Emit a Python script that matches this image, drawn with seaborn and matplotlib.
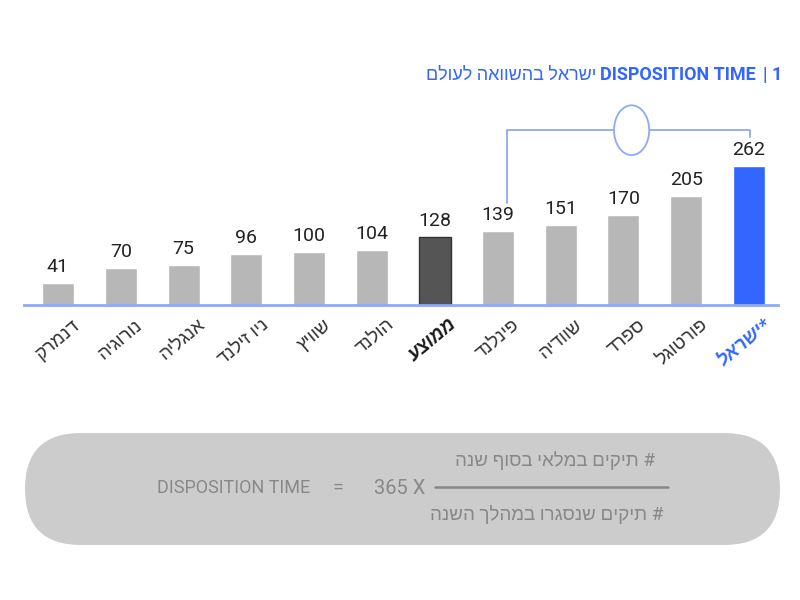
import matplotlib
matplotlib.use("Agg")
import matplotlib.pyplot as plt
import matplotlib.patches as mpatches
import pandas as pd
import seaborn as sns

# data (logical Hebrew order, reversed for drawing since matplotlib has no bidi)
countries = ["דנמרק", "נורוגיה", "אנגליה", "ניו זילנד", "שוויץ", "הולנד",
             "ממוצע", "פינלנד", "שוודיה", "ספרד", "פורטוגל", "*ישראל"]
values = [41, 70, 75, 96, 100, 104, 128, 139, 151, 170, 205, 262]
groups = ["other"] * 6 + ["avg"] + ["other"] * 4 + ["israel"]

title_num = "1"
title_en = "DISPOSITION TIME"
title_he = "ישראל בהשוואה לעולם"
formula_name = "DISPOSITION TIME"
formula_factor = "365 X"
formula_top = "# תיקים במלאי בסוף שנה"
formula_bottom = "# תיקים שנסגרו במהלך השנה"

GRAY = "#b7b7b7"
DARK = "#555555"
BLUE = "#3366ff"
LINE_BLUE = "#8fa8f8"
TEXT_GRAY = "#888888"
FONT = ["Roboto", "Liberation Sans", "DejaVu Sans"]


def visual(s):
    return s[::-1]


sns.set_theme(style="white")
plt.rcParams["font.family"] = FONT

df = pd.DataFrame({"country": countries, "value": values, "group": groups})

fig = plt.figure(figsize=(8, 6), dpi=100)

# overlay in pixel coords for title and formula box
bg = fig.add_axes([0, 0, 1, 1], zorder=0)
bg.set_xlim(0, 800)
bg.set_ylim(600, 0)
bg.axis("off")

ax = fig.add_axes([24 / 800, 1 - 305 / 600, 754 / 800, 205 / 600], zorder=1)
ax.set_facecolor("none")
sns.barplot(data=df, x="country", y="value", hue="group", order=countries,
            palette={"other": GRAY, "avg": DARK, "israel": BLUE},
            width=0.51, dodge=False, legend=False, saturation=1, ax=ax)
for p in ax.patches:
    if p.get_facecolor()[:3] == matplotlib.colors.to_rgb(DARK):
        p.set_edgecolor("#333333")
        p.set_linewidth(1)

ax.set_xlim(-0.54, 11.46)
ax.set_ylim(0, 387)
for side in ["top", "left", "right"]:
    ax.spines[side].set_visible(False)
ax.spines["bottom"].set_color(LINE_BLUE)
ax.spines["bottom"].set_linewidth(2)
ax.set_xlabel("")
ax.set_ylabel("")
ax.set_yticks([])
ax.set_xticks([])

for i, (c, v, g) in enumerate(zip(countries, values, groups)):
    ax.annotate(str(v), (i, v), xytext=(0, 5), textcoords="offset points",
                ha="center", va="bottom", fontsize=14, color="#222222")
    kw = dict(color="#333333")
    if g == "avg":
        kw = dict(color="#1a1a1a", fontweight="bold", fontstyle="italic")
    elif g == "israel":
        kw = dict(color=BLUE, fontweight="bold", fontstyle="italic")
    ax.text(i + 0.22, -20, visual(c), rotation=40, ha="right", va="top",
            rotation_mode="anchor", fontsize=13.5, clip_on=False, **kw)

# bracket from Finland to Israel with the circle
bx = [7.15, 7.15, 11.02, 11.02]
by = [192, 330, 330, 317]
ax.plot(bx, by, color=LINE_BLUE, lw=1.3, solid_joinstyle="round", clip_on=False)
ax.add_patch(mpatches.Ellipse((9.13, 330), 0.56, 94, facecolor="white",
                              edgecolor=LINE_BLUE, lw=1.3, clip_on=False, zorder=3))

# title, built right to left
t1 = bg.text(782, 75, title_num, ha="right", va="center", fontsize=13,
             fontweight="bold", color=BLUE)
t2 = bg.annotate("|", xy=(0, 0.5), xycoords=t1, xytext=(-3, 0),
                 textcoords="offset points", ha="right", va="center",
                 fontsize=13, fontweight="bold", color=BLUE)
t3 = bg.annotate(title_en, xy=(0, 0.5), xycoords=t2, xytext=(-5, 0),
                 textcoords="offset points", ha="right", va="center",
                 fontsize=13, fontweight="bold", color=BLUE)
bg.annotate(visual(title_he), xy=(0, 0.5), xycoords=t3, xytext=(-3, 0),
            textcoords="offset points", ha="right", va="center",
            fontsize=13, color=BLUE)

# formula box
bg.add_patch(mpatches.FancyBboxPatch((25, 433), 755, 112,
                                     boxstyle="round,pad=0,rounding_size=56",
                                     facecolor="#cccccc", edgecolor="none"))
bg.text(234, 488, formula_name, ha="center", va="center", fontsize=13,
        color=TEXT_GRAY)
bg.text(338, 488, "=", ha="center", va="center", fontsize=14,
        color=TEXT_GRAY)
bg.text(400, 488, formula_factor, ha="center", va="center", fontsize=14.5,
        color=TEXT_GRAY)
bg.plot([435, 668], [487, 487], color=TEXT_GRAY, lw=1.8)
bg.text(555, 461, visual(formula_top), ha="center", va="center", fontsize=13.5,
        color=TEXT_GRAY)
bg.text(547, 515, visual(formula_bottom), ha="center", va="center", fontsize=13.5,
        color=TEXT_GRAY)

fig.savefig("out.png", dpi=100)
